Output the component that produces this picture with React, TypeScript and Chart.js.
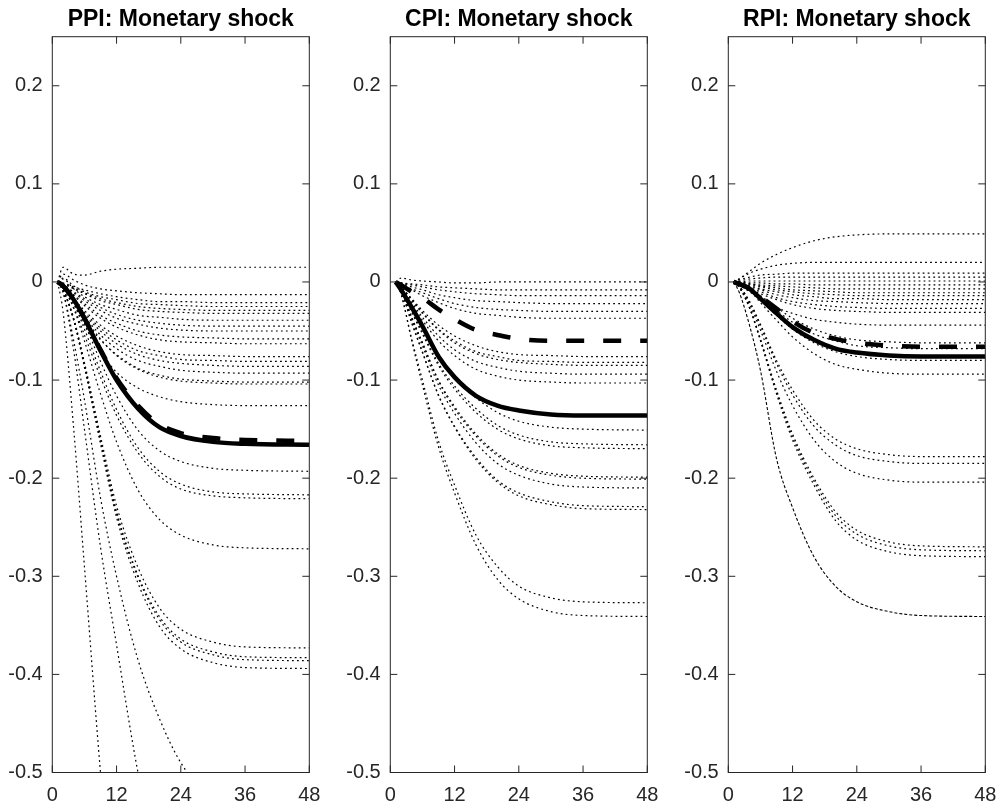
import React, { useEffect, useRef } from 'react';
import { Chart, registerables } from 'chart.js';

Chart.register(...registerables);

const FONT = '"Liberation Sans", Arial, Helvetica, sans-serif';
const AXIS_COLOR = '#262626';

// horizon (months) at which every impulse response is sampled
const months = [1, 2, 4, 6, 9, 12, 16, 20, 24, 30, 36, 48];

const xTicks = [0, 12, 24, 36, 48];
const xTickLabels = ['0', '12', '24', '36', '48'];
const yTicks = [-0.5, -0.4, -0.3, -0.2, -0.1, 0, 0.1, 0.2];
const yTickLabels = ['-0.5', '-0.4', '-0.3', '-0.2', '-0.1', '0', '0.1', '0.2'];

const titles = ['PPI: Monetary shock', 'CPI: Monetary shock', 'RPI: Monetary shock'];

// ---------- PPI ----------
const ppiSolid = [0, -0.004, -0.018, -0.037, -0.07, -0.1, -0.129, -0.148, -0.157, -0.163, -0.165, -0.166];
const ppiDashed = [0, -0.004, -0.018, -0.037, -0.069, -0.098, -0.126, -0.145, -0.154, -0.159, -0.161, -0.162];
const ppiDotted = [
  [0, 0.015, 0.008, 0.007, 0.011, 0.013, 0.014, 0.015, 0.015, 0.015, 0.015, 0.015],
  [0, 0.008, 0.002, -0.003, -0.007, -0.009, -0.011, -0.012, -0.013, -0.013, -0.013, -0.013],
  [0, -0.001, -0.005, -0.008, -0.012, -0.015, -0.018, -0.02, -0.02, -0.021, -0.021, -0.021],
  [0, 0.004, -0.004, -0.01, -0.015, -0.018, -0.022, -0.023, -0.024, -0.025, -0.025, -0.025],
  [0, -0.002, -0.006, -0.011, -0.017, -0.021, -0.025, -0.027, -0.028, -0.029, -0.029, -0.029],
  [0, -0.002, -0.007, -0.012, -0.019, -0.023, -0.028, -0.03, -0.031, -0.032, -0.032, -0.032],
  [0, 0.003, -0.007, -0.015, -0.023, -0.028, -0.034, -0.036, -0.038, -0.039, -0.039, -0.039],
  [0, -0.003, -0.01, -0.017, -0.026, -0.033, -0.039, -0.042, -0.044, -0.045, -0.045, -0.045],
  [0, -0.003, -0.011, -0.019, -0.029, -0.037, -0.043, -0.047, -0.049, -0.05, -0.05, -0.05],
  [0, -0.003, -0.013, -0.022, -0.034, -0.042, -0.05, -0.054, -0.056, -0.057, -0.058, -0.058],
  [0, -0.004, -0.014, -0.024, -0.037, -0.046, -0.054, -0.059, -0.061, -0.062, -0.063, -0.063],
  [0, -0.005, -0.017, -0.029, -0.044, -0.055, -0.065, -0.071, -0.074, -0.075, -0.076, -0.076],
  [0, -0.005, -0.018, -0.031, -0.047, -0.059, -0.07, -0.075, -0.079, -0.08, -0.081, -0.081],
  [0, -0.005, -0.019, -0.033, -0.05, -0.063, -0.074, -0.08, -0.083, -0.085, -0.086, -0.086],
  [0, -0.006, -0.02, -0.035, -0.054, -0.068, -0.08, -0.086, -0.09, -0.092, -0.093, -0.093],
  [0, -0.006, -0.022, -0.039, -0.059, -0.074, -0.088, -0.095, -0.099, -0.101, -0.102, -0.102],
  [0, -0.003, -0.018, -0.036, -0.058, -0.075, -0.089, -0.097, -0.101, -0.103, -0.104, -0.104],
  [0, -0.004, -0.022, -0.044, -0.071, -0.092, -0.108, -0.117, -0.122, -0.125, -0.126, -0.126],
  [0, -0.004, -0.019, -0.042, -0.081, -0.116, -0.151, -0.172, -0.183, -0.19, -0.192, -0.193],
  [0, -0.004, -0.022, -0.048, -0.091, -0.13, -0.169, -0.193, -0.206, -0.214, -0.216, -0.217],
  [0, -0.006, -0.026, -0.054, -0.097, -0.136, -0.174, -0.198, -0.211, -0.218, -0.22, -0.221],
  [0, -0.005, -0.027, -0.06, -0.114, -0.163, -0.212, -0.242, -0.258, -0.268, -0.271, -0.272],
  [0, -0.007, -0.037, -0.082, -0.157, -0.228, -0.291, -0.332, -0.354, -0.367, -0.372, -0.373],
  [0, -0.008, -0.038, -0.084, -0.161, -0.234, -0.299, -0.341, -0.364, -0.377, -0.382, -0.383],
  [0, -0.008, -0.039, -0.085, -0.162, -0.236, -0.301, -0.344, -0.367, -0.38, -0.385, -0.386],
  [0, -0.008, -0.039, -0.087, -0.165, -0.24, -0.307, -0.351, -0.374, -0.388, -0.393, -0.394],
  [0, -0.03, -0.15, -0.29, -0.5, -0.68, -0.85, -0.95, -1.0, -1.03, -1.04, -1.05],
  [0, -0.01, -0.07, -0.15, -0.27, -0.37, -0.5, -0.6, -0.67, -0.72, -0.74, -0.75],
  [0, -0.01, -0.06, -0.12, -0.22, -0.3, -0.385, -0.445, -0.49, -0.53, -0.55, -0.56],
];

// ---------- CPI ----------
const cpiSolid = [0, -0.008, -0.026, -0.045, -0.076, -0.097, -0.116, -0.126, -0.131, -0.135, -0.136, -0.136];
const cpiDashed = [0, -0.003, -0.01, -0.016, -0.028, -0.038, -0.049, -0.054, -0.058, -0.06, -0.06, -0.06];
const cpiDotted = [
  [0, 0.004, 0.002, 0.001, 0, -0.001, -0.001, 0, 0, 0, 0, 0],
  [0, -0.001, -0.002, -0.003, -0.005, -0.006, -0.007, -0.008, -0.008, -0.008, -0.008, -0.008],
  [0, -0.001, -0.003, -0.005, -0.008, -0.01, -0.012, -0.013, -0.014, -0.014, -0.014, -0.014],
  [0, -0.001, -0.005, -0.008, -0.013, -0.016, -0.019, -0.02, -0.021, -0.022, -0.022, -0.022],
  [0, -0.002, -0.007, -0.011, -0.017, -0.022, -0.026, -0.028, -0.029, -0.03, -0.03, -0.03],
  [0, -0.002, -0.008, -0.014, -0.021, -0.027, -0.032, -0.034, -0.036, -0.037, -0.037, -0.037],
  [0, -0.005, -0.017, -0.029, -0.044, -0.055, -0.065, -0.071, -0.074, -0.075, -0.076, -0.076],
  [0, -0.005, -0.018, -0.031, -0.048, -0.06, -0.071, -0.076, -0.08, -0.081, -0.082, -0.082],
  [0, -0.005, -0.019, -0.032, -0.049, -0.062, -0.073, -0.079, -0.082, -0.084, -0.085, -0.085],
  [0, -0.006, -0.021, -0.036, -0.055, -0.069, -0.081, -0.087, -0.091, -0.093, -0.094, -0.094],
  [0, -0.006, -0.023, -0.039, -0.06, -0.075, -0.089, -0.096, -0.1, -0.102, -0.103, -0.103],
  [0, -0.006, -0.027, -0.047, -0.076, -0.097, -0.118, -0.133, -0.142, -0.148, -0.15, -0.151],
  [0, -0.007, -0.03, -0.051, -0.083, -0.106, -0.129, -0.146, -0.156, -0.163, -0.165, -0.166],
  [0, -0.007, -0.031, -0.053, -0.085, -0.109, -0.133, -0.15, -0.16, -0.167, -0.169, -0.17],
  [0, -0.008, -0.036, -0.062, -0.1, -0.127, -0.155, -0.175, -0.187, -0.195, -0.198, -0.199],
  [0, -0.008, -0.036, -0.062, -0.101, -0.129, -0.157, -0.177, -0.189, -0.197, -0.2, -0.201],
  [0, -0.008, -0.038, -0.065, -0.105, -0.134, -0.164, -0.185, -0.197, -0.206, -0.209, -0.21],
  [0, -0.009, -0.041, -0.071, -0.115, -0.147, -0.179, -0.202, -0.215, -0.224, -0.228, -0.229],
  [0, -0.009, -0.042, -0.072, -0.116, -0.148, -0.181, -0.204, -0.218, -0.227, -0.231, -0.232],
  [0, -0.012, -0.058, -0.1, -0.162, -0.207, -0.258, -0.29, -0.31, -0.322, -0.326, -0.327],
  [0, -0.012, -0.06, -0.105, -0.168, -0.215, -0.268, -0.303, -0.323, -0.336, -0.34, -0.341],
];

// ---------- RPI ----------
const rpiSolid = [0, -0.002, -0.007, -0.017, -0.032, -0.046, -0.059, -0.068, -0.072, -0.075, -0.076, -0.076];
const rpiDashed = [0, -0.002, -0.007, -0.015, -0.027, -0.04, -0.052, -0.058, -0.062, -0.065, -0.066, -0.066];
const rpiThinDashed = [
  [0, -0.01, -0.045, -0.09, -0.18, -0.23, -0.28, -0.31, -0.326, -0.336, -0.34, -0.341],
];
const rpiDotted = [
  [0, 0.003, 0.011, 0.019, 0.028, 0.035, 0.042, 0.046, 0.048, 0.049, 0.049, 0.049],
  [0, 0.003, 0.009, 0.013, 0.017, 0.019, 0.02, 0.02, 0.02, 0.02, 0.02, 0.02],
  [0, 0.002, 0.005, 0.007, 0.008, 0.009, 0.009, 0.009, 0.009, 0.009, 0.009, 0.009],
  [0, 0.001, 0.003, 0.004, 0.005, 0.005, 0.005, 0.005, 0.005, 0.005, 0.005, 0.005],
  [0, 0, 0.001, 0.001, 0.001, 0.001, 0.001, 0.001, 0.001, 0.001, 0.001, 0.001],
  [0, 0, -0.001, -0.001, -0.002, -0.002, -0.003, -0.003, -0.003, -0.003, -0.003, -0.003],
  [0, 0, -0.002, -0.003, -0.004, -0.005, -0.006, -0.007, -0.007, -0.007, -0.007, -0.007],
  [0, -0.001, -0.002, -0.004, -0.006, -0.008, -0.009, -0.01, -0.011, -0.011, -0.011, -0.011],
  [0, -0.001, -0.003, -0.005, -0.008, -0.01, -0.012, -0.013, -0.014, -0.014, -0.014, -0.014],
  [0, -0.001, -0.004, -0.007, -0.01, -0.013, -0.015, -0.017, -0.017, -0.018, -0.018, -0.018],
  [0, -0.001, -0.005, -0.008, -0.013, -0.016, -0.019, -0.02, -0.021, -0.022, -0.022, -0.022],
  [0, -0.002, -0.006, -0.01, -0.016, -0.02, -0.023, -0.025, -0.026, -0.027, -0.027, -0.027],
  [0, -0.002, -0.007, -0.012, -0.018, -0.023, -0.027, -0.029, -0.03, -0.031, -0.031, -0.031],
  [0, -0.003, -0.01, -0.017, -0.026, -0.032, -0.038, -0.041, -0.043, -0.044, -0.044, -0.044],
  [0, -0.002, -0.007, -0.014, -0.026, -0.037, -0.048, -0.055, -0.059, -0.061, -0.062, -0.062],
  [0, -0.002, -0.007, -0.015, -0.029, -0.041, -0.053, -0.06, -0.065, -0.067, -0.068, -0.068],
  [0, -0.002, -0.008, -0.018, -0.034, -0.048, -0.062, -0.071, -0.076, -0.079, -0.08, -0.08],
  [0, -0.002, -0.009, -0.021, -0.039, -0.056, -0.073, -0.084, -0.089, -0.093, -0.094, -0.094],
  [0, -0.004, -0.02, -0.043, -0.08, -0.11, -0.141, -0.16, -0.17, -0.176, -0.178, -0.178],
  [0, -0.004, -0.021, -0.045, -0.083, -0.115, -0.147, -0.166, -0.177, -0.183, -0.185, -0.185],
  [0, -0.004, -0.023, -0.049, -0.091, -0.126, -0.161, -0.183, -0.195, -0.202, -0.204, -0.204],
  [0, -0.005, -0.026, -0.058, -0.11, -0.155, -0.2, -0.234, -0.253, -0.265, -0.269, -0.27],
  [0, -0.005, -0.027, -0.059, -0.112, -0.158, -0.203, -0.238, -0.257, -0.269, -0.273, -0.274],
  [0, -0.005, -0.027, -0.06, -0.114, -0.161, -0.207, -0.243, -0.263, -0.275, -0.279, -0.28],
];

const framePlugin = {
  id: 'matlabFrame',
  afterDraw(chart: any, _args: any, opts: any) {
    const { ctx, chartArea, scales } = chart;
    const { left, right, top, bottom } = chartArea;
    ctx.save();
    ctx.strokeStyle = AXIS_COLOR;
    ctx.lineWidth = 1;
    ctx.strokeRect(left, top, right - left, bottom - top);
    const tl = 7;
    ctx.beginPath();
    for (const v of xTicks) {
      const px = scales.x.getPixelForValue(v);
      ctx.moveTo(px, bottom);
      ctx.lineTo(px, bottom - tl);
      ctx.moveTo(px, top);
      ctx.lineTo(px, top + tl);
    }
    for (const v of yTicks) {
      const py = scales.y.getPixelForValue(v);
      ctx.moveTo(left, py);
      ctx.lineTo(left + tl, py);
      ctx.moveTo(right, py);
      ctx.lineTo(right - tl, py);
    }
    ctx.stroke();
    ctx.fillStyle = '#000';
    ctx.font = `bold 23px ${FONT}`;
    ctx.textAlign = 'center';
    ctx.textBaseline = 'alphabetic';
    ctx.fillText(opts.title, (left + right) / 2, 26);
    ctx.restore();
  },
};

type PanelProps = {
  title: string;
  solid: number[];
  dashed: number[];
  dotted: number[][];
  thinDashed?: number[][];
  left: number;
};

function Panel({ title, solid, dashed, dotted, thinDashed = [], left }: PanelProps) {
  const ref = useRef<HTMLCanvasElement>(null);
  useEffect(() => {
    if (!ref.current) return;
    const toXY = (vals: number[]) => vals.map((y, i) => ({ x: months[i], y }));
    const base = {
      pointRadius: 0,
      borderColor: '#000',
      fill: false,
      cubicInterpolationMode: 'monotone' as const,
      clip: 0,
    };
    const datasets: any[] = [
      { ...base, data: toXY(solid), borderWidth: 4.5 },
      { ...base, data: toXY(dashed), borderWidth: 4.5, borderDash: [18, 19] },
      ...thinDashed.map((d) => ({ ...base, data: toXY(d), borderWidth: 1.1, borderDash: [3, 2] })),
      ...dotted.map((d) => ({ ...base, data: toXY(d), borderWidth: 1.2, borderDash: [1.8, 3.2] })),
    ];
    const chart = new Chart(ref.current, {
      type: 'line',
      data: { datasets },
      options: {
        responsive: false,
        animation: false,
        events: [],
        layout: { padding: { top: 36.7, right: 28.7, bottom: 0, left: 0 } },
        plugins: {
          legend: { display: false },
          tooltip: { enabled: false },
          title: { display: false },
          matlabFrame: { title },
        } as any,
        scales: {
          x: {
            type: 'linear',
            min: 0,
            max: 48,
            afterBuildTicks: (s: any) => {
              s.ticks = xTicks.map((v) => ({ value: v }));
            },
            afterFit: (s: any) => {
              s.height = 37.5;
            },
            grid: { display: false, drawTicks: false },
            border: { display: false },
            ticks: {
              autoSkip: false,
              maxRotation: 0,
              padding: 11,
              color: AXIS_COLOR,
              font: { family: FONT, size: 20 },
              callback: (_v: any, i: number) => xTickLabels[i],
            },
          },
          y: {
            type: 'linear',
            min: -0.5,
            max: 0.25,
            afterBuildTicks: (s: any) => {
              s.ticks = yTicks.map((v) => ({ value: v }));
            },
            afterFit: (s: any) => {
              s.width = 52.3;
            },
            grid: { display: false, drawTicks: false },
            border: { display: false },
            ticks: {
              autoSkip: false,
              padding: 9.6,
              color: AXIS_COLOR,
              font: { family: FONT, size: 20 },
              callback: (_v: any, i: number) => yTickLabels[i],
            },
          },
        },
      } as any,
      plugins: [framePlugin],
    });
    return () => chart.destroy();
  }, [title, solid, dashed, dotted, thinDashed]);
  return (
    <canvas
      ref={ref}
      width={338}
      height={810}
      style={{ position: 'absolute', left, top: 0, width: 338, height: 810 }}
    />
  );
}

export default function App() {
  return (
    <div
      style={{
        position: 'absolute',
        left: 0,
        top: 0,
        width: 1001,
        height: 810,
        overflow: 'hidden',
        background: '#fff',
      }}
    >
      <Panel title={titles[0]} solid={ppiSolid} dashed={ppiDashed} dotted={ppiDotted} left={0} />
      <Panel title={titles[1]} solid={cpiSolid} dashed={cpiDashed} dotted={cpiDotted} left={338} />
      <Panel
        title={titles[2]}
        solid={rpiSolid}
        dashed={rpiDashed}
        dotted={rpiDotted}
        thinDashed={rpiThinDashed}
        left={676}
      />
    </div>
  );
}
